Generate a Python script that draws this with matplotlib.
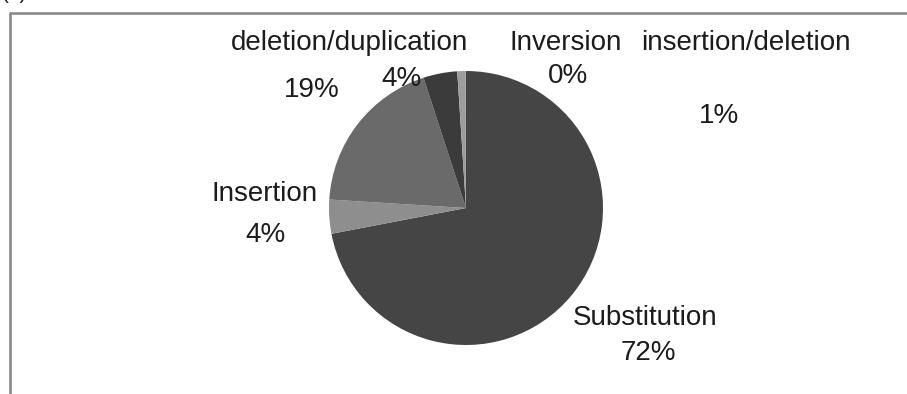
import matplotlib.pyplot as plt

# Mutation type shares (%), clockwise from 12 o'clock
categories = ["Substitution", "Insertion", "deletion", "duplication",
              "insertion/deletion", "Inversion"]
shares = [72, 4, 19, 4, 1, 0.02]
slice_colors = ["#454545", "#8e8e8e", "#6a6a6a", "#3b3b3b", "#9d9d9d", "#9d9d9d"]

W, H = 907, 394
TXT = "#1c1c1c"

plt.rcParams["font.family"] = ["Liberation Sans", "DejaVu Sans"]

fig = plt.figure(figsize=(W / 100, H / 100), dpi=100)
ax = fig.add_axes([0, 0, 1, 1])

# pie centred where the reference has it (pixel coords, y up)
ax.pie(shares, colors=slice_colors, startangle=90, counterclock=False,
       center=(466, H - 208), radius=137,
       wedgeprops=dict(linewidth=0))

ax.set_xlim(0, W)
ax.set_ylim(0, H)
ax.set_aspect("equal")
ax.axis("off")

# frame (only top and left edges are visible in the crop)
ax.plot([9.5, 9.5], [0, H - 12.5], color="#8a8a8a", lw=1.9, solid_capstyle="butt")
ax.plot([8.5, W], [H - 12.5, H - 12.5], color="#8a8a8a", lw=1.9, solid_capstyle="butt")

# panel letter, mostly cut off at the top
ax.text(2, H + 1, "(b)", fontsize=15, color=TXT, ha="left", va="baseline")

fs = 20
labels = [
    ("deletion/duplication", 350, 43),
    ("19%", 312, 90),
    ("4%", 402, 79),
    ("Inversion", 566, 43),
    ("0%", 568, 76),
    ("insertion/deletion", 746, 43),
    ("1%", 719, 116),
    ("Insertion", 265, 194),
    ("4%", 265, 235),
    ("Substitution", 645, 318),
    ("72%", 648, 353),
]
for s, px, py in labels:
    ax.text(px, H - py, s, fontsize=fs, color=TXT, ha="center", va="center")

fig.savefig("out.png", dpi=100)
